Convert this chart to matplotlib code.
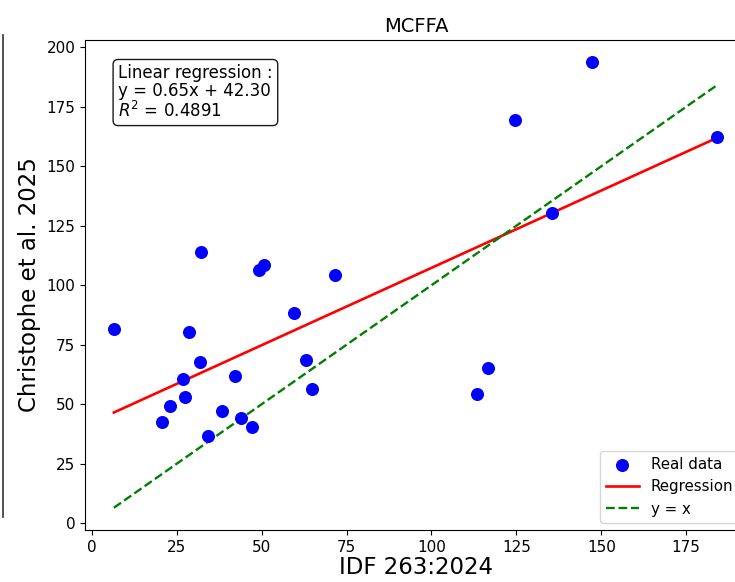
import matplotlib
matplotlib.use('Agg')
import matplotlib.pyplot as plt
from matplotlib.lines import Line2D
import numpy as np

# valeurs
idf = [6.5, 20.6, 23.0, 26.8, 27.4, 28.6, 31.8, 32.1, 34.2, 38.3, 42.1, 43.9, 47.1,
       49.2, 50.6, 59.5, 63.0, 64.8, 71.6, 113.4, 116.6, 124.6, 135.5, 147.2, 184.0]
christophe = [81.5, 42.4, 49.2, 60.5, 52.9, 80.3, 67.6, 113.9, 36.6, 47.1, 61.8, 44.1, 40.3,
              106.3, 108.4, 88.2, 68.5, 56.3, 104.2, 54.2, 65.1, 169.3, 130.3, 193.7, 162.2]
slope = 0.65
intercept = 42.30
r2 = 0.4891
title = 'MCFFA'

x = np.array(idf)
y = np.array(christophe)
xs = np.array([x.min(), x.max()])

fig = plt.figure(figsize=(7.35, 5.82), dpi=100)
ax = fig.add_axes([85 / 735, 0.0893, 662 / 735, 0.842])

ax.scatter(x, y, color='blue', s=70, label='Real data', zorder=3)
ax.plot(xs, slope * xs + intercept, color='red', lw=1.9, label='Regression')
ax.plot(xs, xs, color='green', ls='--', lw=1.7, label='y = x')
ax.set_xlim(-2.0, 192.9)

txt = f'Linear regression :\ny = {slope:.2f}x + {intercept:.2f}\n$R^2$ = {r2:.4f}'
ax.text(0.05, 0.95, txt, transform=ax.transAxes, va='top', ha='left', fontsize=12,
        linespacing=1.0,
        bbox=dict(boxstyle='round', facecolor='white', edgecolor='black', alpha=0.9))

ax.set_title(title, fontsize=14)
ax.set_xlabel('IDF 263:2024', fontsize=16.5, labelpad=1)
ax.set_ylabel('Christophe et al. 2025', fontsize=16.5)
ax.tick_params(labelsize=11)
ax.legend(loc='lower right', fontsize=10.8, handlelength=2.2)

# bord du panneau voisin
fig.add_artist(Line2D([0.004, 0.004], [0.112, 0.94], transform=fig.transFigure,
                      color='#333333', lw=1.2))

fig.savefig('out.png', dpi=100)
